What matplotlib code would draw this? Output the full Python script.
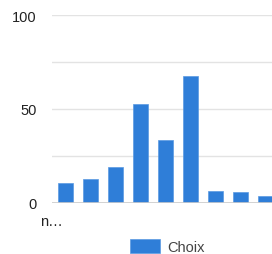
import matplotlib
matplotlib.use("Agg")
import matplotlib.pyplot as plt
import matplotlib.transforms as mtransforms

plt.rcParams['font.family'] = ['Liberation Sans', 'DejaVu Sans']

categories = ['n…', '', '', '', '', '', '', '', '']
values = [10.5, 12.6, 19.3, 52.7, 33.7, 67.7, 6.4, 5.7, 3.7]
series_name = 'Choix'
y_ticks = [0, 50, 100]
y_grid_minor = [25, 75]

W, H = 272, 255
fig = plt.figure(figsize=(W / 100, H / 100), dpi=100)
ax = fig.add_axes([52 / W, 51 / H, (W - 52) / W, 188 / H])

x = list(range(len(values)))
ax.bar(x, values, width=0.6, color='#2f7ed8', edgecolor='#5a9ae2', linewidth=0.5,
       label=series_name, zorder=3)

ax.set_xlim(-0.526, 8.24)
ax.set_ylim(0, 100)
ax.set_yticks(y_ticks)
ax.set_yticks(y_grid_minor, minor=True)
ax.grid(axis='y', which='both', color='#e3e3e3', linewidth=1, zorder=0)
ax.axhline(0, color='#cccccc', linewidth=1.2, zorder=4)

ax.set_xticks([0], [categories[0]])
for s in ax.spines.values():
    s.set_visible(False)
ax.tick_params(axis='both', which='both', length=0, labelsize=10.5, colors='#222222')
ax.tick_params(axis='y', pad=11)
ax.tick_params(axis='x', pad=8)
for lbl in ax.get_xticklabels():
    lbl.set_ha('right')
    lbl.set_transform(lbl.get_transform() + mtransforms.ScaledTranslation(-2 / 100, 0, fig.dpi_scale_trans))

fig.legend(loc='center', bbox_to_anchor=(167 / W, 1 - 247.5 / H), frameon=False,
           fontsize=10.5, handlelength=2.05, handleheight=1.03, handletextpad=0.5,
           labelcolor='#444444')

fig.savefig('out.png', dpi=100)
